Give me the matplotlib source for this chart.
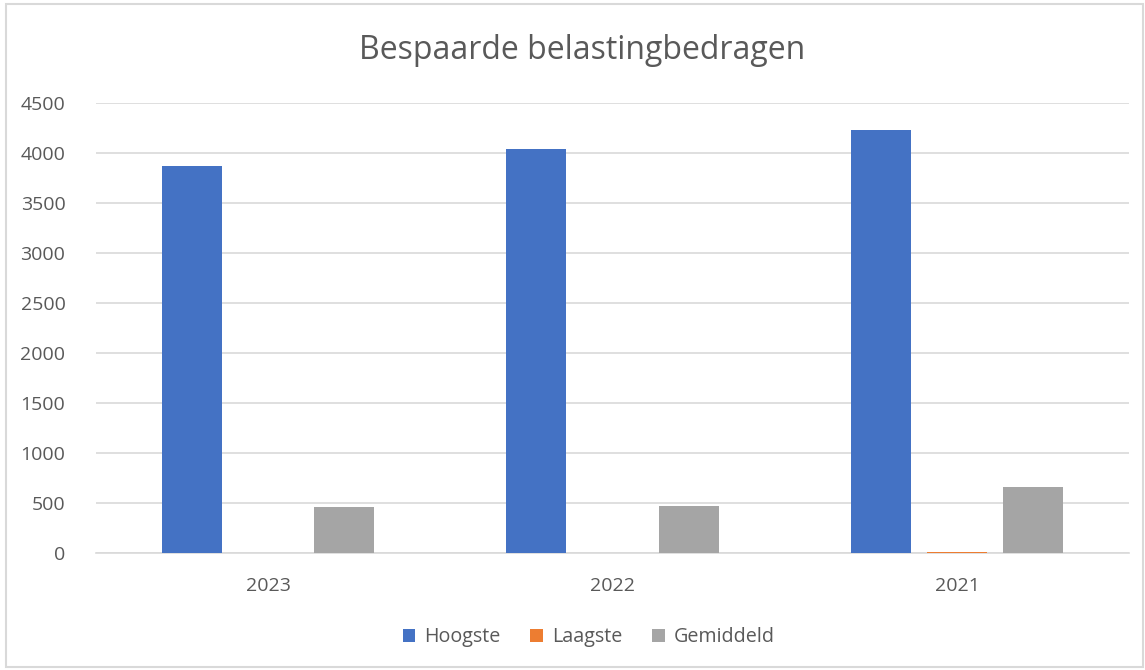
import numpy as np
import matplotlib.pyplot as plt
from matplotlib.patches import Rectangle

# data
years = ['2023', '2022', '2021']
hoogste = [3870, 4040, 4230]
laagste = [0, 0, 10]
gemiddeld = [460, 470, 660]

plt.rcParams['font.family'] = ['Open Sans', 'DejaVu Sans']
txt = '#595959'
grid_c = '#D9D9D9'

fig = plt.figure(figsize=(11.45, 6.7), dpi=100)
ax = fig.add_axes([0.0838, 0.1746, 0.9024, 0.6717])

x = np.arange(len(years))
w = 0.174
step = 0.221
ax.bar(x - step, hoogste, w, color='#4472C4', label='Hoogste', zorder=3)
ax.bar(x, laagste, w, color='#ED7D31', label='Laagste', zorder=3)
ax.bar(x + step, gemiddeld, w, color='#A5A5A5', label='Gemiddeld', zorder=3)

ax.set_xlim(-0.5, 2.5)
ax.set_ylim(0, 4500)
ax.set_yticks(np.arange(0, 4501, 500))
ax.set_xticks(x)
ax.set_xticklabels(years)
ax.yaxis.grid(True, color=grid_c, linewidth=1.2, zorder=0)
for s in ['top', 'right', 'left']:
    ax.spines[s].set_visible(False)
ax.spines['bottom'].set_color(grid_c)
ax.spines['bottom'].set_linewidth(1.2)
ax.tick_params(axis='both', length=0, labelsize=14, labelcolor=txt)
ax.tick_params(axis='y', pad=22)
ax.tick_params(axis='x', pad=17)

fig.text(0.508, 0.925, 'Bespaarde belastingbedragen', ha='center', va='center',
         fontsize=23, color=txt)

ax.legend(loc='center', bbox_to_anchor=(0.514, 0.049),
          bbox_transform=fig.transFigure, ncol=3, frameon=False,
          fontsize=14.2, labelcolor=txt, handlelength=0.65, handleheight=0.65,
          handletextpad=0.45, columnspacing=1.5)

fig.patches.append(Rectangle((0.005, 0.004), 0.993, 0.99, transform=fig.transFigure,
                             fill=False, edgecolor=grid_c, linewidth=1.5))

plt.savefig('out.png', dpi=100)
